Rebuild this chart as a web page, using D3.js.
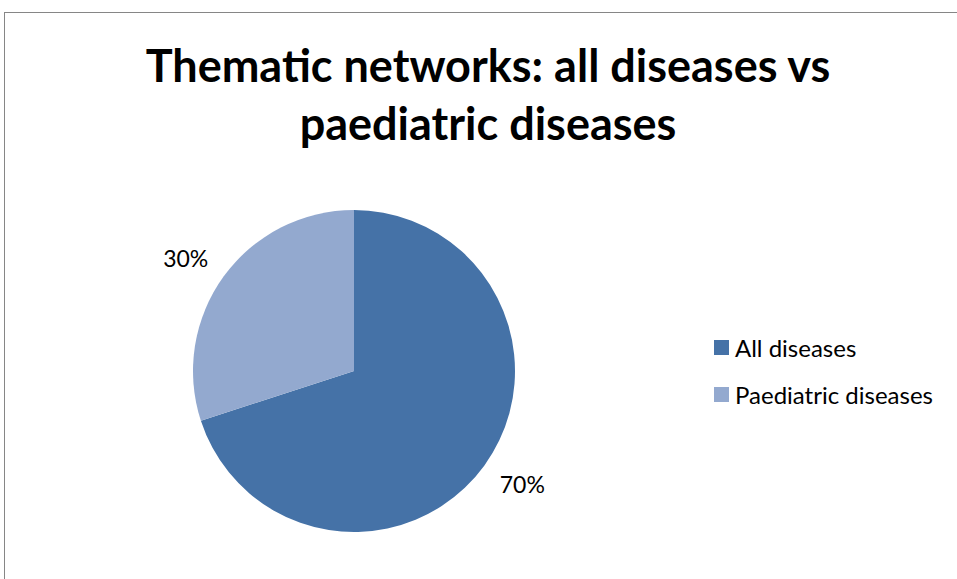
<!DOCTYPE html>
<html>
<head>
<meta charset="utf-8">
<script src="https://cdn.jsdelivr.net/npm/d3@7"></script>
<style>
  html, body { margin: 0; padding: 0; background: #fff; }
  svg { display: block; }
</style>
</head>
<body>
<svg id="chart" width="957" height="579"></svg>
<script>
// Share of thematic networks by disease scope
const categories = ["All diseases", "Paediatric diseases"];
const shares = [70, 30];
const percentLabels = ["70%", "30%"];
const colors = ["#4572A7", "#93A9CF"];
const titleLines = ["Thematic networks: all diseases vs", "paediatric diseases"];

const svg = d3.select("#chart");
const font = "Lato, 'Open Sans', sans-serif";

// outer frame
svg.append("rect")
  .attr("x", 4.5).attr("y", 12.5)
  .attr("width", 970).attr("height", 600)
  .attr("fill", "#fff")
  .attr("stroke", "#868686").attr("stroke-width", 1);

// title
svg.append("g").selectAll("text")
  .data(titleLines)
  .join("text")
  .attr("x", 488)
  .attr("y", (d, i) => 82 + i * 58)
  .attr("text-anchor", "middle")
  .attr("font-family", font)
  .attr("font-weight", "bold")
  .attr("font-size", 45)
  .attr("fill", "#000")
  .text(d => d);

// pie
const cx = 354, cy = 371, r = 161;
const pie = d3.pie().sort(null).value(d => d.value);
const arcs = pie(categories.map((c, i) => ({ name: c, value: shares[i], label: percentLabels[i], color: colors[i] })));
const arc = d3.arc().innerRadius(0).outerRadius(r);

const g = svg.append("g").attr("transform", `translate(${cx},${cy})`);
g.selectAll("path")
  .data(arcs)
  .join("path")
  .attr("d", arc)
  .attr("fill", d => d.data.color);

// percent labels placed on an ellipse outside each slice's mid-angle
const labelRx = r + 47, labelRy = r + 31;
g.selectAll("text")
  .data(arcs)
  .join("text")
  .attr("transform", d => {
    const a = (d.startAngle + d.endAngle) / 2;
    return `translate(${Math.sin(a) * labelRx},${-Math.cos(a) * labelRy})`;
  })
  .attr("text-anchor", "middle")
  .attr("dominant-baseline", "central")
  .attr("font-family", font)
  .attr("font-size", 23)
  .attr("fill", "#000")
  .text(d => d.data.label);

// legend
const legend = svg.append("g").attr("transform", "translate(714,340)");
const items = legend.selectAll("g")
  .data(categories)
  .join("g")
  .attr("transform", (d, i) => `translate(0,${i * 47})`);
items.append("rect")
  .attr("width", 15).attr("height", 15)
  .attr("fill", (d, i) => colors[i]);
items.append("text")
  .attr("x", 21).attr("y", 7.5)
  .attr("dominant-baseline", "central")
  .attr("font-family", font)
  .attr("font-size", 24)
  .attr("fill", "#000")
  .text(d => d);
</script>
</body>
</html>
